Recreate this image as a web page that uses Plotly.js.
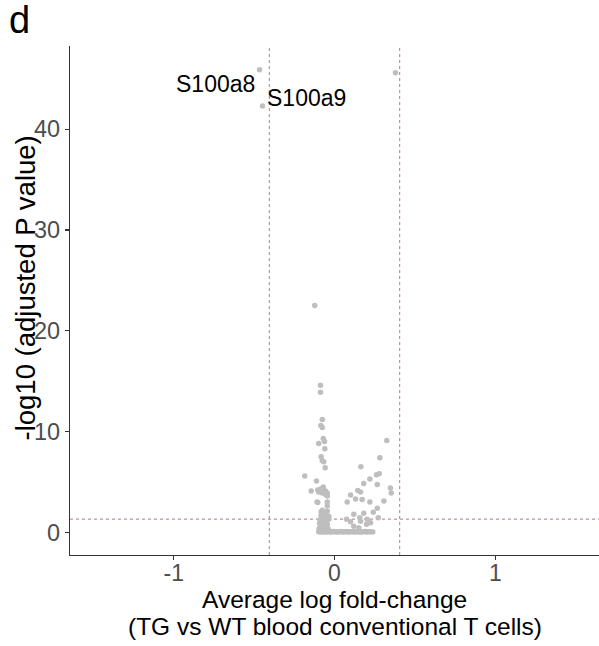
<!DOCTYPE html>
<html>
<head>
<meta charset="utf-8">
<script src="https://cdn.plot.ly/plotly-3.0.1.min.js"></script>
<style>
  html, body { margin: 0; padding: 0; background: #fff; }
  #chart { width: 599px; height: 646px; }
</style>
</head>
<body>
<div id="chart"></div>
<script>
// Differential expression: TG vs WT blood conventional T cells
const genes = [
  "S100a8", "S100a9", "g3",
  "g4", "g5", "g6", "g7", "g8", "g9", "g10", "g11", "g12", "g13", "g14", "g15", "g16", "g17",
  "g18", "g19", "g20", "g21", "g22", "g23", "g24", "g25", "g26", "g27", "g28", "g29", "g30", "g31",
  "g32", "g33", "g34", "g35", "g36", "g37", "g38", "g39", "g40", "g41", "g42", "g43", "g44", "g45"
];

// Average log fold-change of each gene
const logFC = [
  -0.466, -0.448, 0.379,
  -0.123, -0.087, -0.087, -0.076, -0.085, -0.076, -0.070, -0.062, -0.098, -0.060, -0.083, -0.076, -0.067, -0.058,
  -0.185, -0.112, -0.145, -0.104, -0.087, -0.070, -0.056, -0.045, -0.108, -0.045, -0.076, -0.045, -0.083, -0.056,
  -0.035, -0.070, -0.098, -0.076, -0.056, -0.045, -0.104, -0.045, -0.083, -0.067, -0.056, -0.076, -0.035, -0.076,
  // right-hand group
  0.325, 0.282, 0.164, 0.278, 0.261, 0.220, 0.182, 0.266, 0.348, 0.353, 0.145, 0.162, 0.100, 0.131, 0.172,
  0.079, 0.220, 0.307, 0.266, 0.241, 0.182, 0.120, 0.157, 0.272, 0.075, 0.203, 0.100, 0.162, 0.224, 0.151,
  0.120, 0.199,
  // low-significance block near zero fold-change
  -0.067, -0.045, -0.096, -0.088, -0.080, -0.072, -0.064, -0.052, -0.041, -0.093, -0.084, -0.069, -0.058, -0.047,
  -0.090, -0.077, -0.061, -0.050, -0.038, -0.086, -0.073,
  // genes with adjusted P close to 1
  -0.098, -0.091, -0.085, -0.079, -0.072, -0.066, -0.059, -0.053, -0.046, -0.040, -0.031, -0.022, -0.014, -0.005,
  0.004, 0.013, 0.021, 0.030, 0.041, 0.050, 0.058, 0.067, 0.078, 0.087, 0.095, 0.106, 0.114, 0.123, 0.133,
  0.142, 0.151, 0.160, 0.171, 0.180, 0.189, 0.198, 0.207, 0.216, 0.225, 0.238
];

// -log10 of the adjusted P value of each gene
const negLog10P = [
  45.9, 42.3, 45.6,
  22.5, 14.6, 13.9, 11.2, 10.6, 10.4, 9.3, 9.0, 8.8, 8.3, 7.5, 7.1, 7.0, 6.4,
  5.6, 5.1, 4.1, 4.2, 4.3, 4.4, 4.1, 3.9, 3.0, 3.0, 2.2, 2.1, 1.7, 1.45,
  1.6, 4.5, 4.0, 3.9, 3.75, 3.6, 2.95, 2.6, 2.05, 1.95, 1.8, 1.45, 1.3, 0.96,
  9.1, 7.4, 6.5, 5.8, 5.7, 5.3, 4.85, 4.75, 4.4, 3.9, 4.15, 4.0, 3.7, 3.3, 3.25,
  3.0, 3.0, 3.1, 2.4, 2.0, 1.9, 1.8, 1.45, 1.45, 1.3, 1.3, 1.05, 1.1, 0.95, 0.45,
  0.6, 0.8,
  0.62, 0.8, 0.35, 0.5, 0.7, 0.3, 0.55, 0.4, 0.25, 0.9, 1.15, 1.0, 0.2, 0.65,
  1.25, 0.15, 1.1, 0.9, 0.3, 0.2, 0.45,
  0.06, 0.05, 0.08, 0.04, 0.07, 0.05, 0.06, 0.04, 0.08, 0.05, 0.06, 0.04, 0.05, 0.07,
  0.05, 0.04, 0.06, 0.05, 0.07, 0.04, 0.05, 0.06, 0.05, 0.04, 0.06, 0.05, 0.07, 0.04, 0.05,
  0.06, 0.05, 0.04, 0.06, 0.05, 0.07, 0.04, 0.05, 0.06, 0.05, 0.02
];

// Genes named on the plot, with label offsets in pixels
const labelled = ["S100a8", "S100a9"];
const labelShiftX = [-3, 3];
const labelShiftY = [-14, 8];
const labelAnchor = ["right", "left"];

// Significance cut-offs
const fcCut = 0.405;            // |log fold-change|
const pCut = -Math.log10(0.05); // adjusted P = 0.05

const xTicks = [-1, 0, 1];
const yTicks = [0, 10, 20, 30, 40];

const xTitleLines = ["Average log fold-change", "(TG vs WT blood conventional T cells)"];
const yTitle = "-log10 (adjusted P value)";
const panelTag = "d";

const FONT = "Liberation Sans, Arial, Helvetica, sans-serif";
const cutLine = { color: "#C98F9A", width: 1.2, dash: "dot" };

const annotations = labelled.map((g, k) => {
  const i = genes.indexOf(g);
  return {
    x: logFC[i], y: negLog10P[i], xref: "x", yref: "y",
    text: g, showarrow: false,
    xanchor: labelAnchor[k], yanchor: "middle",
    xshift: labelShiftX[k], yshift: labelShiftY[k],
    font: { family: FONT, size: 23, color: "#000" }
  };
});

// axis titles
annotations.push({
  xref: "paper", yref: "paper", x: -0.0832, y: 0.5255,
  text: yTitle, textangle: -90, showarrow: false,
  xanchor: "center", yanchor: "middle",
  font: { family: FONT, size: 27.5, color: "#000" }
});
xTitleLines.forEach((line, k) => {
  annotations.push({
    xref: "paper", yref: "paper", x: 0.5, y: [-0.0884, -0.1395][k],
    text: line, showarrow: false, xanchor: "center", yanchor: "middle",
    font: { family: FONT, size: 24.5, color: "#000" }
  });
});

// panel tag
annotations.push({
  xref: "paper", yref: "paper", x: -0.117, y: 1.0945,
  text: panelTag, showarrow: false, xanchor: "left", yanchor: "top",
  borderpad: 0,
  font: { family: FONT, size: 38, color: "#000" }
});

const trace = {
  type: "scatter", mode: "markers",
  x: logFC, y: negLog10P, text: genes,
  marker: { color: "#BEBEBE", size: 5.5, line: { width: 0 } },
  hoverinfo: "text+x+y"
};

const layout = {
  width: 599, height: 646,
  margin: { l: 70, r: 0, t: 46, b: 91 },
  paper_bgcolor: "#fff", plot_bgcolor: "#fff",
  showlegend: false,
  font: { family: FONT },
  xaxis: {
    range: [-1.645, 1.645], tickvals: xTicks, ticktext: xTicks.map(String),
    showgrid: false, zeroline: false,
    showline: true, linecolor: "#333", linewidth: 1.2,
    ticks: "outside", ticklen: 4, tickcolor: "#333", tickwidth: 1.1,
    tickfont: { family: FONT, size: 23, color: "#4D4D4D" },
    ticklabelstandoff: -7,
    automargin: false
  },
  yaxis: {
    range: [-2.25, 48.25], tickvals: yTicks, ticktext: yTicks.map(String),
    showgrid: false, zeroline: false,
    showline: true, linecolor: "#333", linewidth: 1.2,
    ticks: "outside", ticklen: 4, tickcolor: "#333", tickwidth: 1.1,
    tickfont: { family: FONT, size: 23.5, color: "#4D4D4D" },
    automargin: false
  },
  shapes: [
    { type: "line", xref: "x", yref: "paper", x0: -fcCut, x1: -fcCut, y0: 0, y1: 1, line: cutLine, layer: "below" },
    { type: "line", xref: "x", yref: "paper", x0: fcCut, x1: fcCut, y0: 0, y1: 1, line: cutLine, layer: "below" },
    { type: "line", xref: "paper", yref: "y", x0: 0, x1: 1, y0: pCut, y1: pCut, line: cutLine, layer: "below" }
  ],
  annotations: annotations
};

Plotly.newPlot("chart", [trace], layout, { displayModeBar: false, staticPlot: true });
</script>
</body>
</html>
